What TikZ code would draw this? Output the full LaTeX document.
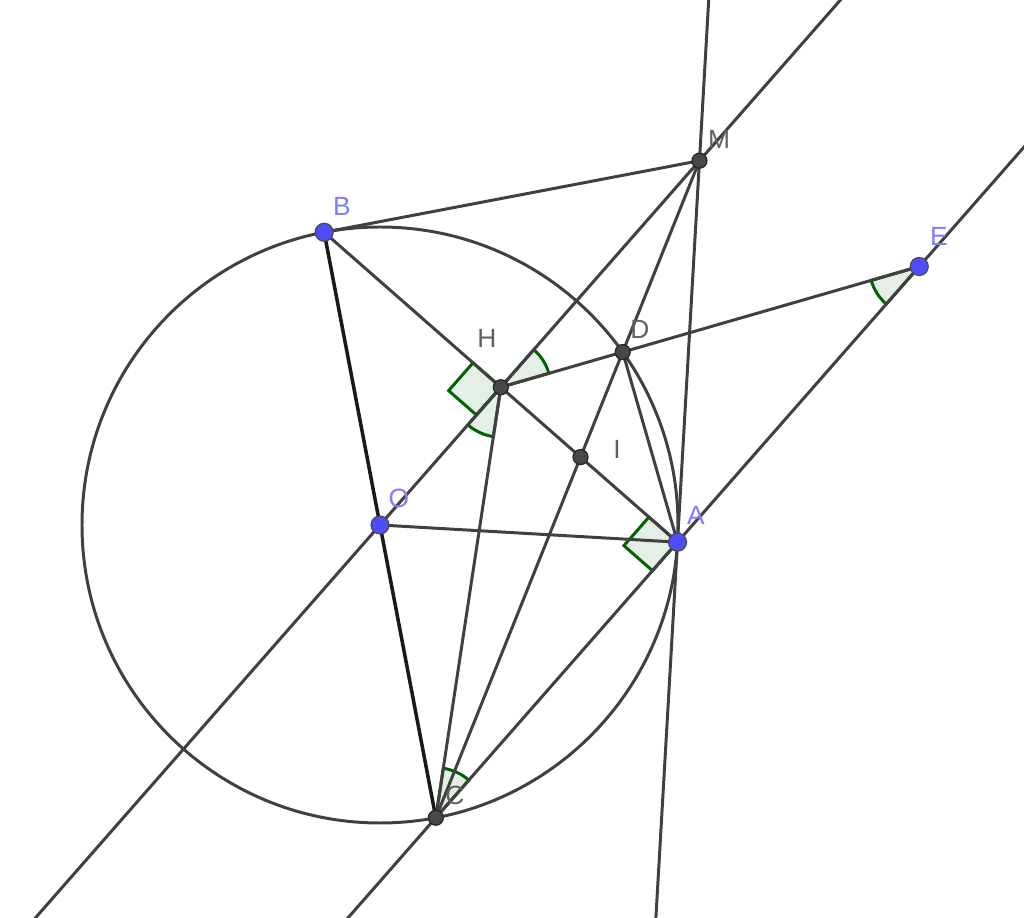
\documentclass[tikz,border=0pt]{standalone}
\usepackage{fontspec}
\setmainfont{Liberation Sans}
\usetikzlibrary{calc}

\definecolor{ggline}{RGB}{64,64,64}
\definecolor{ggblue}{RGB}{77,77,255}
\definecolor{gglabelblue}{RGB}{125,125,255}
\definecolor{ggdark}{RGB}{72,72,72}
\definecolor{gglabel}{RGB}{96,96,96}
\definecolor{ggangle}{RGB}{0,100,0}

\tikzset{
	geoline/.style={ggline, line width=0.85pt},
	freept/.style={circle, fill=ggblue, draw=black!70, line width=0.35pt, inner sep=0pt, minimum size=0.18cm},
	deppt/.style={circle, fill=ggdark, draw=black!85, line width=0.35pt, inner sep=0pt, minimum size=0.15cm},
	freelabel/.style={text=gglabelblue, inner sep=0pt, font=\fontsize{7.5}{9}\selectfont},
	deplabel/.style={text=gglabel, inner sep=0pt, font=\fontsize{7.5}{9}\selectfont},
	anglemark/.style={draw=ggangle, line width=0.85pt, fill=ggangle, fill opacity=0.1}
}

\begin{document}
\begin{tikzpicture}
		\useasboundingbox (-3.80,-3.93) rectangle (6.44,5.25);
		\clip (-3.80,-3.93) rectangle (6.44,5.25);

		\coordinate (O) at (0,0);
		\coordinate (B) at (-0.5584,2.9272);
		\coordinate (A) at (2.9751,-0.1715);
		\coordinate (C) at (0.5584,-2.9272);
		\coordinate (M) at (3.1946,3.6427);
		\coordinate (H) at (1.2083,1.3778);
		\coordinate (D) at (2.4269,1.7293);
		\coordinate (I) at (2.0054,0.6789);
		\coordinate (E) at (5.3924,2.5848);

		\draw [anglemark] (H) -- ++(16.09:0.5) arc[start angle=16.09, end angle=48.75, radius=0.5] -- cycle;
		\draw [anglemark] (H) -- ++(228.75:0.5) arc[start angle=228.75, end angle=261.41, radius=0.5] -- cycle;
		\draw [anglemark] (C) -- ++(48.75:0.5) arc[start angle=48.75, end angle=81.41, radius=0.5] -- cycle;
		\draw [anglemark] (E) -- ++(196.09:0.5) arc[start angle=196.09, end angle=228.75, radius=0.5] -- cycle;
		\draw [anglemark] (H) -- ++(138.75:0.37) -- ++(228.75:0.37) -- ++(-41.25:0.37) -- cycle;
		\draw [anglemark] (A) -- ++(138.75:0.38) -- ++(228.75:0.38) -- ++(-41.25:0.38) -- cycle;

		\draw [geoline] (O) circle (2.98);
		\draw [geoline] ($(O)!-1.2!(M)$) -- ($(O)!1.6!(M)$);
		\draw [geoline] ($(C)!-0.5!(A)$) -- ($(C)!2.6!(A)$);
		\draw [geoline] ($(A)!-1.2!(M)$) -- ($(A)!1.6!(M)$);
		\draw [geoline] (B) -- (M);
		\draw [geoline] (B) -- (A);
		\draw [geoline] (O) -- (A);
		\draw [geoline] (M) -- (C);
		\draw [geoline] (D) -- (A);
		\draw [geoline] (H) -- (E);
		\draw [geoline] (H) -- (C);
		\draw [black!90, line width=1pt] (B) -- (C);

		\node [freept] (pB) at (B) {};
		\node [freept] (pA) at (A) {};
		\node [freept] (pO) at (O) {};
		\node [freept] (pE) at (E) {};
		\node [deppt] (pM) at (M) {};
		\node [deppt] (pH) at (H) {};
		\node [deppt] (pD) at (D) {};
		\node [deppt] (pI) at (I) {};
		\node [deppt] (pC) at (C) {};

		\node [freelabel] (lB) at (-0.38,3.19) {B};
		\node [freelabel] (lA) at (3.16,0.10) {A};
		\node [freelabel] (lO) at (0.19,0.27) {O};
		\node [freelabel] (lE) at (5.59,2.89) {E};
		\node [deplabel] (lM) at (3.39,3.86) {M};
		\node [deplabel] (lH) at (1.07,1.87) {H};
		\node [deplabel] (lD) at (2.60,1.96) {D};
		\node [deplabel] (lI) at (2.37,0.76) {I};
		\node [deplabel] (lC) at (0.75,-2.70) {C};
	\end{tikzpicture}
\end{document}
